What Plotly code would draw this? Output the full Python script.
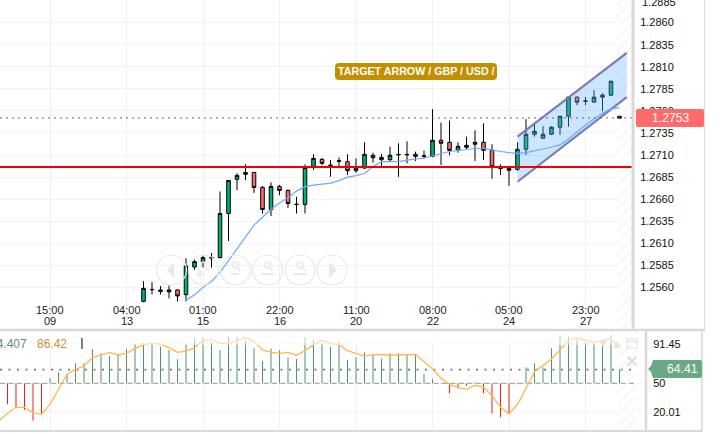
import plotly.graph_objects as go

W, H = 724, 434
PX_PER_BAR = 8.5
ORIGIN = 143.5

candle_index = list(range(0, 57))
opens = [1.25441,1.25577,1.25571,1.25549,1.25571,1.25517,1.25831,1.25892,1.25932,1.25937,1.26437,1.26824,1.26881,1.26903,1.26733,1.26483,1.26744,1.26699,1.26543,1.26540,1.26972,1.27051,1.26986,1.27028,1.27024,1.26922,1.26952,1.27097,1.27074,1.27047,1.27101,1.27101,1.27108,1.27086,1.27085,1.27267,1.27244,1.27153,1.27187,1.27222,1.27244,1.27153,1.26950,1.26949,1.26937,1.27165,1.27335,1.27290,1.27335,1.27415,1.27539,1.27756,1.27708,1.27699,1.27756,1.27778,1.27539]
highs = [1.25671,1.25660,1.25615,1.25623,1.25577,1.25930,1.25915,1.25960,1.25990,1.26687,1.26816,1.26892,1.26994,1.26907,1.26748,1.26790,1.26759,1.26710,1.26626,1.26994,1.27108,1.27066,1.27043,1.27074,1.27108,1.27062,1.27244,1.27126,1.27111,1.27194,1.27233,1.27256,1.27138,1.27149,1.27619,1.27467,1.27490,1.27244,1.27308,1.27381,1.27460,1.27222,1.26994,1.26952,1.27244,1.27506,1.27449,1.27426,1.27426,1.27543,1.27762,1.27762,1.27756,1.27835,1.27801,1.27937,1.27539]
lows = [1.25430,1.25520,1.25520,1.25475,1.25441,1.25441,1.25801,1.25824,1.25824,1.25930,1.26126,1.26702,1.26816,1.26671,1.26437,1.26410,1.26645,1.26501,1.26437,1.26437,1.26929,1.26986,1.26853,1.26949,1.26873,1.26899,1.26941,1.27012,1.26978,1.27032,1.26853,1.27006,1.27032,1.27058,1.27074,1.26986,1.27097,1.27126,1.27157,1.27032,1.27043,1.26831,1.26873,1.26751,1.26921,1.27100,1.27308,1.27290,1.27327,1.27330,1.27421,1.27664,1.27664,1.27699,1.27597,1.27767,1.27517]
closes = [1.25589,1.25575,1.25554,1.25571,1.25503,1.25842,1.25892,1.25937,1.25937,1.26437,1.26812,1.26869,1.26903,1.26733,1.26483,1.26744,1.26699,1.26551,1.26539,1.26960,1.27062,1.27006,1.26980,1.27035,1.26922,1.26952,1.27108,1.27069,1.27047,1.27097,1.27106,1.27106,1.27085,1.27091,1.27267,1.27233,1.27153,1.27199,1.27210,1.27244,1.27153,1.26967,1.26946,1.26926,1.27165,1.27335,1.27369,1.27335,1.27415,1.27539,1.27756,1.27699,1.27713,1.27756,1.27778,1.27937,1.27517]

ma_index = list(range(5, 57))
ma_values = [1.25458,1.25515,1.25600,1.25670,1.25770,1.25907,1.26032,1.26168,1.26305,1.26395,1.26486,1.26555,1.26617,1.26691,1.26742,1.26759,1.26770,1.26782,1.26810,1.26850,1.26867,1.26890,1.26969,1.27024,1.27026,1.27026,1.27043,1.27055,1.27066,1.27089,1.27111,1.27140,1.27151,1.27163,1.27174,1.27176,1.27157,1.27140,1.27128,1.27119,1.27128,1.27145,1.27168,1.27191,1.27214,1.27282,1.27361,1.27441,1.27509,1.27572,1.27623,1.27637]

channel_x = [44, 56.85, 56.85, 44, 44]
channel_y = [1.27308, 1.28256, 1.27756, 1.26797, 1.27308]
support_level = 1.26964
last_price = 1.27520

osc_index = list(range(-16, 57))
osc_bars = [27.9,24.7,21.9,10.7,17.4,55.3,61.6,59.8,71,71,86.1,81.6,78.8,80.9,86.1,91.4,92.1,92.1,88.6,85.1,75.3,91.4,97.4,98.4,93.2,85.1,99.5,98.4,94.9,86.8,73.5,86.8,84.7,77.4,75.6,98.4,95.6,92.1,88.6,93.2,74.6,77.4,82.6,79.8,76.3,81.6,81.6,80.5,79.8,59.8,54.6,50.4,39.5,44.7,47.5,51.4,39.5,18.4,14.2,17.7,49,66.8,71,66.8,86.8,100.2,99.1,95.6,93.2,92.1,95.6,100.9,64.41]
line_index = list(range(-17, 57))
osc_line = [10.7,18.4,24.7,24.7,19.1,17.4,27.9,43,59.5,64.7,68.2,77,79.8,82.6,79.8,81.6,86.8,90.4,92.1,91.1,87.5,82.6,84,87.5,94.9,96.3,92.1,92.1,94.9,98.4,93.9,85.1,82.6,81.6,82.6,79.5,84.4,90.4,95.3,92.1,90.4,84.4,81.6,78.4,80.5,79.8,79.8,79.8,80.5,80.5,72.8,65.1,55.3,48.9,45.4,43.7,47.9,46.1,37,24.7,17.7,27.9,44.7,62.3,68.6,75.6,85.1,95.6,97.4,95.6,93.2,95.3,96.7,87.9]
osc_last = 64.41
osc_base = 50

price_ticks = [1.2860,1.2835,1.2810,1.2785,1.2760,1.2735,1.2710,1.2685,1.2660,1.2635,1.2610,1.2585,1.2560]
osc_ticks = [91.45, 50, 20.01]
time_ticks = [-11, -2, 7, 16, 25, 34, 43, 52]
time_hours = ["15:00","04:00","01:00","22:00","11:00","08:00","05:00","23:00"]
time_days = ["09","13","15","16","20","22","24","27"]

FONT = "Liberation Sans, Arial, sans-serif"
GRID = "#f1f1f1"
BORDER = "#d9d9d9"
GREEN = "#6aa886"
RED_BOX = "#ff6b6b"

def px(x): return x / W
def py(y): return 1 - y / H
def idx(x): return (x - ORIGIN) / PX_PER_BAR

def round_box(x0, y0, x1, y1, r, tip=0):
    mid = (y0 + y1) / 2
    pts = [f"M{px(x0+r)},{py(y0)}", f"L{px(x1-r)},{py(y0)}", f"Q{px(x1)},{py(y0)} {px(x1)},{py(y0+r)}",
           f"L{px(x1)},{py(y1-r)}", f"Q{px(x1)},{py(y1)} {px(x1-r)},{py(y1)}", f"L{px(x0+r)},{py(y1)}"]
    if tip:
        pts += [f"L{px(x0)},{py(mid+tip)}", f"L{px(x0-tip)},{py(mid)}", f"L{px(x0)},{py(mid-tip)}", f"L{px(x0+r)},{py(y0)}Z"]
    else:
        pts += [f"Q{px(x0)},{py(y1)} {px(x0)},{py(y1-r)}", f"L{px(x0)},{py(y0+r)}", f"Q{px(x0)},{py(y0)} {px(x0+r)},{py(y0)}Z"]
    return "".join(pts)

def stems(values, keep):
    xs, ys = [], []
    for i, v in zip(osc_index, values):
        if keep(v):
            xs += [i, i, None]
            ys += [osc_base, v, None]
    return xs, ys

fig = go.Figure()

fig.add_trace(go.Bar(x=[idx(624.5)], y=[0.04], base=[1.25], width=[idx(632)-idx(617)], xaxis="x", yaxis="y",
                     marker=dict(color="white", line_width=0, pattern=dict(shape="/", fgcolor="#eeeeee", bgcolor="white", size=8, solidity=0.25)),
                     showlegend=False, hoverinfo="skip"))
fig.add_trace(go.Bar(x=[idx(627.5)], y=[120], base=[-10], width=[idx(637)-idx(618)], xaxis="x2", yaxis="y2",
                     marker=dict(color="white", line_width=0, pattern=dict(shape="/", fgcolor="#eeeeee", bgcolor="white", size=8, solidity=0.25)),
                     showlegend=False, hoverinfo="skip"))

fig.add_trace(go.Candlestick(x=candle_index, open=opens, high=highs, low=lows, close=closes, xaxis="x", yaxis="y",
                             increasing=dict(line=dict(color="#000000", width=1), fillcolor="#00b46e"),
                             decreasing=dict(line=dict(color="#000000", width=1), fillcolor="#ff6b6b"),
                             whiskerwidth=0, showlegend=False, hoverinfo="skip"))
fig.add_trace(go.Scatter(x=channel_x, y=channel_y, mode="none", fill="toself", fillcolor="rgba(100,180,255,0.33)",
                         xaxis="x", yaxis="y", showlegend=False, hoverinfo="skip"))
for a, b in ((0, 1), (3, 2)):
    fig.add_trace(go.Scatter(x=[channel_x[a], channel_x[b]], y=[channel_y[a], channel_y[b]], mode="lines",
                             line=dict(color="#7b7bb8", width=2.2), xaxis="x", yaxis="y", showlegend=False, hoverinfo="skip"))
fig.add_trace(go.Scatter(x=ma_index, y=ma_values, mode="lines", line=dict(color="#6aa9ff", width=1.2),
                         xaxis="x", yaxis="y", showlegend=False, hoverinfo="skip"))
fig.add_trace(go.Scatter(x=[idx(0), idx(632)], y=[support_level]*2, mode="lines", line=dict(color="#f00000", width=2.2),
                         xaxis="x", yaxis="y", showlegend=False, hoverinfo="skip"))
fig.add_trace(go.Scatter(x=[idx(0), idx(632)], y=[last_price]*2, mode="lines", line=dict(color="#666666", width=1, dash="2px,4px"),
                         xaxis="x", yaxis="y", showlegend=False, hoverinfo="skip"))

up_x, up_y = stems(osc_bars, lambda v: v >= osc_base)
dn_x, dn_y = stems(osc_bars, lambda v: v < osc_base)
fig.add_trace(go.Scatter(x=up_x, y=up_y, mode="lines", line=dict(color="#4f9470", width=1), connectgaps=False,
                         xaxis="x2", yaxis="y2", showlegend=False, hoverinfo="skip"))
fig.add_trace(go.Scatter(x=dn_x, y=dn_y, mode="lines", line=dict(color="#e62020", width=1), connectgaps=False,
                         xaxis="x2", yaxis="y2", showlegend=False, hoverinfo="skip"))
fig.add_trace(go.Scatter(x=[idx(0), idx(637)], y=[osc_base]*2, mode="lines", line=dict(color="#999999", width=1, dash="5px,3.5px"),
                         xaxis="x2", yaxis="y2", showlegend=False, hoverinfo="skip"))
fig.add_trace(go.Scatter(x=[idx(0), idx(637)], y=[osc_last]*2, mode="lines", line=dict(color="#777777", width=1.6, dash="2px,6.5px"),
                         xaxis="x2", yaxis="y2", showlegend=False, hoverinfo="skip"))
fig.add_trace(go.Scatter(x=line_index, y=osc_line, mode="lines", line=dict(color="#ffb84d", width=1.3),
                         xaxis="x2", yaxis="y2", showlegend=False, hoverinfo="skip"))

shapes = []
def paper_line(x0, y0, x1, y1, color=BORDER, width=1):
    shapes.append(dict(type="line", xref="paper", yref="paper", x0=px(x0), x1=px(x1), y0=py(y0), y1=py(y1),
                       line=dict(color=color, width=width), layer="above"))

shapes.append(dict(type="rect", xref="paper", yref="paper", x0=0, x1=px(645), y0=py(345), y1=py(331),
                   fillcolor="rgba(255,255,255,0.55)", line_width=0, layer="above"))
paper_line(0, 330, 705, 330, width=2.5)
paper_line(0, 431, 702, 431, width=2)
paper_line(633, 0, 633, 330, width=3)
paper_line(704.5, 0, 704.5, 330)
paper_line(646, 330, 646, 431, width=2.5)
paper_line(702, 330, 702, 431, width=1.5)

FAINT = "#e9e9e9"
centers = [171.5, 203.5, 235.5, 267.5, 300, 332]
for cx in centers:
    shapes.append(dict(type="circle", xref="paper", yref="paper", x0=px(cx-15), x1=px(cx+15), y0=py(285), y1=py(255),
                       line=dict(color=FAINT, width=1.2), layer="above"))
for cx in centers[1:5]:
    shapes.append(dict(type="circle", xref="paper", yref="paper", x0=px(cx-3), x1=px(cx+3), y0=py(268), y1=py(262),
                       line=dict(color=FAINT, width=1.5), layer="above"))
    paper_line(cx+2, 267, cx+5, 271, FAINT, 1.5)
paper_line(196, 274, 204, 274, FAINT, 2)
paper_line(200, 270, 200, 278, FAINT, 2)
paper_line(231, 274, 239, 274, FAINT, 2)
paper_line(261, 274, 274, 274, FAINT, 2)
paper_line(293, 274, 307, 274, FAINT, 2)
shapes.append(dict(type="path", xref="paper", yref="paper", layer="above", fillcolor=FAINT, line_width=0,
                   path=f"M{px(174)},{py(262)}L{px(167)},{py(270)}L{px(174)},{py(278)}Z"))
shapes.append(dict(type="path", xref="paper", yref="paper", layer="above", fillcolor=FAINT, line_width=0,
                   path=f"M{px(329)},{py(262)}L{px(337)},{py(270)}L{px(329)},{py(278)}Z"))

shapes.append(dict(type="path", xref="paper", yref="paper", layer="above", fillcolor=RED_BOX, line_width=0,
                   path=round_box(636, 109, 704, 127, 2)))
shapes.append(dict(type="path", xref="paper", yref="paper", layer="above", fillcolor=GREEN, line_width=0,
                   path=round_box(651, 360, 702, 378, 2, tip=3)))
shapes.append(dict(type="path", xref="paper", yref="paper", layer="above", fillcolor="#c29000", line_width=0,
                   path=round_box(335, 63, 497, 80, 4)))

shapes.append(dict(type="rect", xref="paper", yref="paper", x0=px(627), x1=px(637), y0=py(348), y1=py(339),
                   line=dict(color="#e4e4e4", width=1.2), layer="above"))
paper_line(627, 341.5, 637, 341.5, "#e4e4e4", 1.5)
paper_line(627.5, 356.5, 636.5, 365.5, "#dddddd", 2.2)
paper_line(636.5, 356.5, 627.5, 365.5, "#dddddd", 2.2)
shapes.append(dict(type="path", xref="paper", yref="paper", layer="above", fillcolor="#e4e4e4", line_width=0,
                   path=f"M{px(599)},{py(341)}L{px(607)},{py(341)}L{px(603)},{py(347)}Z"))
shapes.append(dict(type="path", xref="paper", yref="paper", layer="above", fillcolor="#e4e4e4", line_width=0,
                   path=f"M{px(613)},{py(348)}L{px(621)},{py(348)}L{px(617)},{py(341)}Z"))

ann = []
for t, hour, day in zip(time_ticks, time_hours, time_days):
    for y, label in ((310, hour), (321, day)):
        ann.append(dict(x=t, xref="x", y=py(y), yref="paper", text=label, showarrow=False, align="center", yanchor="middle",
                        font=dict(family=FONT, size=11, color="#222222")))
def paper_text(x, y, text, size, color, xanchor="center", bold=False):
    ann.append(dict(x=px(x), y=py(y), xref="paper", yref="paper", text=f"<b>{text}</b>" if bold else text, showarrow=False,
                    xanchor=xanchor, yanchor="middle", font=dict(family=FONT, size=size, color=color)))
paper_text(670.5, 118, "1.2753", 12.2, "white")
paper_text(682, 369, "64.41", 12.2, "white")
paper_text(416, 71.5, "TARGET ARROW / GBP / USD /", 10.7, "white", bold=True)
paper_text(29, 343.5, "14.407", 12, "#5f8f75", xanchor="right")
paper_text(52, 343.5, "86.42", 12, "#c98f3e")
paper_text(640, 1.5, "1.2885", 11, "#111111", xanchor="left")
paper_line(82, 338, 82, 349, "#000000", 1)

fig.update_layout(
    width=W, height=H, margin=dict(l=0, r=0, t=0, b=0), paper_bgcolor="white", plot_bgcolor="white",
    showlegend=False, barmode="overlay", boxgap=0.4, hovermode=False, shapes=shapes, annotations=ann,
    xaxis=dict(domain=[0, px(632)], range=[idx(0), idx(632)], tickvals=time_ticks, showticklabels=False, ticks="",
               showgrid=True, gridcolor=GRID, gridwidth=1, zeroline=False, rangeslider=dict(visible=False), anchor="y", fixedrange=True),
    yaxis=dict(domain=[py(329), 1], range=[1.251285, 1.288565], side="right", anchor="x",
               tickvals=price_ticks, ticktext=[f"{v:.4f}" for v in price_ticks], showgrid=True, gridcolor=GRID, zeroline=False,
               ticks="outside", ticklen=5, tickcolor="rgba(0,0,0,0)", tickfont=dict(family=FONT, size=11, color="#111111"), fixedrange=True),
    xaxis2=dict(domain=[0, px(646)], range=[idx(0), idx(646)], tickvals=time_ticks, showticklabels=False, ticks="",
                showgrid=True, gridcolor=GRID, zeroline=False, anchor="y2", fixedrange=True),
    yaxis2=dict(domain=[py(431), py(331)], range=[osc_base - (431 - 383.3) / 0.95, osc_base + (383.3 - 331) / 0.95], side="right", anchor="x2",
                tickvals=osc_ticks, ticktext=["91.45", "50", "20.01"], showgrid=True, gridcolor=GRID, zeroline=False,
                ticks="outside", ticklen=4, tickcolor="rgba(0,0,0,0)", tickfont=dict(family=FONT, size=11, color="#111111"), fixedrange=True),
)

fig.write_html("out.html", config=dict(displayModeBar=False), post_script="document.body.style.margin='0';")
